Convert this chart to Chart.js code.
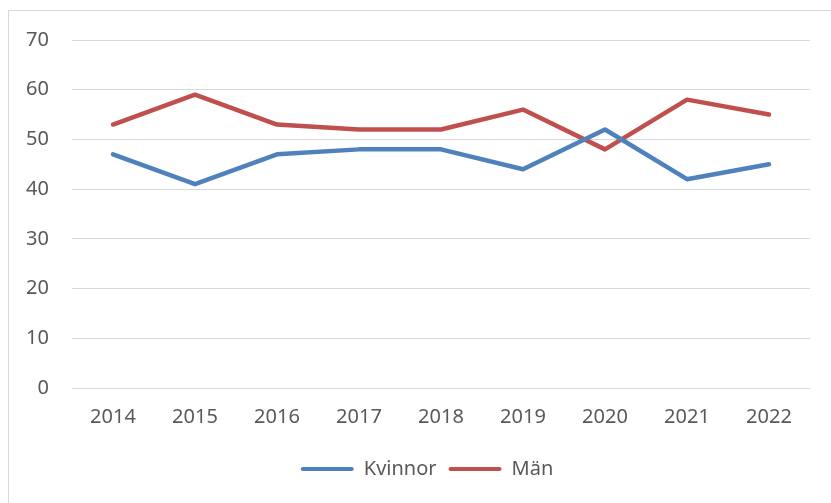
<!DOCTYPE html>
<html>
<head>
<meta charset="utf-8">
<script src="https://cdn.jsdelivr.net/npm/chart.js@4"></script>
<style>
  html, body { margin: 0; padding: 0; overflow: hidden; background: #fff; }
  #frame { position: absolute; left: 8px; top: 10px; width: 900px; height: 600px; border: 1px solid #d9d9d9; }
  #wrap { position: absolute; left: 0; top: 0; width: 831px; height: 503px; }
</style>
</head>
<body>
<div id="frame"></div>
<div id="wrap"><canvas id="chart" width="831" height="503"></canvas></div>
<script>
const years = ['2014', '2015', '2016', '2017', '2018', '2019', '2020', '2021', '2022'];
const kvinnor = [47, 41, 47, 48, 48, 44, 52, 42, 45];
const man = [53, 59, 53, 52, 52, 56, 48, 58, 55];
const yTicks = [0, 10, 20, 30, 40, 50, 60, 70];

const font = { family: "'Noto Sans', sans-serif", size: 20 };
const textColor = '#595959';

// nudge the legend a little right, like the original
const shiftLegend = {
    id: 'shiftLegend',
    afterLayout(chart) {
        chart.legend.left += 12;
        chart.legend.right += 12;
    }
};

new Chart(document.getElementById('chart').getContext('2d'), {
    type: 'line',
    data: {
        labels: years,
        datasets: [
            { label: 'Kvinnor', data: kvinnor, borderColor: '#4F81BD', backgroundColor: '#4F81BD' },
            { label: 'Män', data: man, borderColor: '#C0504D', backgroundColor: '#C0504D' }
        ]
    },
    plugins: [shiftLegend],
    options: {
        responsive: false,
        animation: false,
        layout: { padding: { left: 20, top: 40, right: 21, bottom: 14 } },
        elements: {
            line: { borderWidth: 4.5, tension: 0, borderCapStyle: 'round', borderJoinStyle: 'round' },
            point: { radius: 0, hoverRadius: 0 }
        },
        plugins: {
            tooltip: { enabled: false },
            legend: {
                position: 'bottom',
                labels: {
                    font: font,
                    color: textColor,
                    boxWidth: 53,
                    boxHeight: 4,
                    padding: 12,
                    generateLabels: chart => chart.data.datasets.map((ds, i) => ({
                        text: ds.label,
                        fillStyle: ds.borderColor,
                        strokeStyle: ds.borderColor,
                        lineWidth: 0,
                        borderRadius: 2,
                        fontColor: textColor,
                        datasetIndex: i
                    }))
                }
            }
        },
        scales: {
            x: {
                offset: true,
                grid: { display: false, drawTicks: false },
                border: { display: false },
                ticks: { font: font, color: textColor, padding: 17.5, maxRotation: 0 }
            },
            y: {
                min: 0,
                max: 70,
                afterFit: s => { s.width = 52; },
                afterBuildTicks: s => { s.ticks = yTicks.map(v => ({ value: v })); },
                grid: { color: '#d9d9d9', lineWidth: 1, drawTicks: false },
                border: { display: false },
                ticks: { font: font, color: textColor, padding: 23 }
            }
        }
    }
});
</script>
</body>
</html>
